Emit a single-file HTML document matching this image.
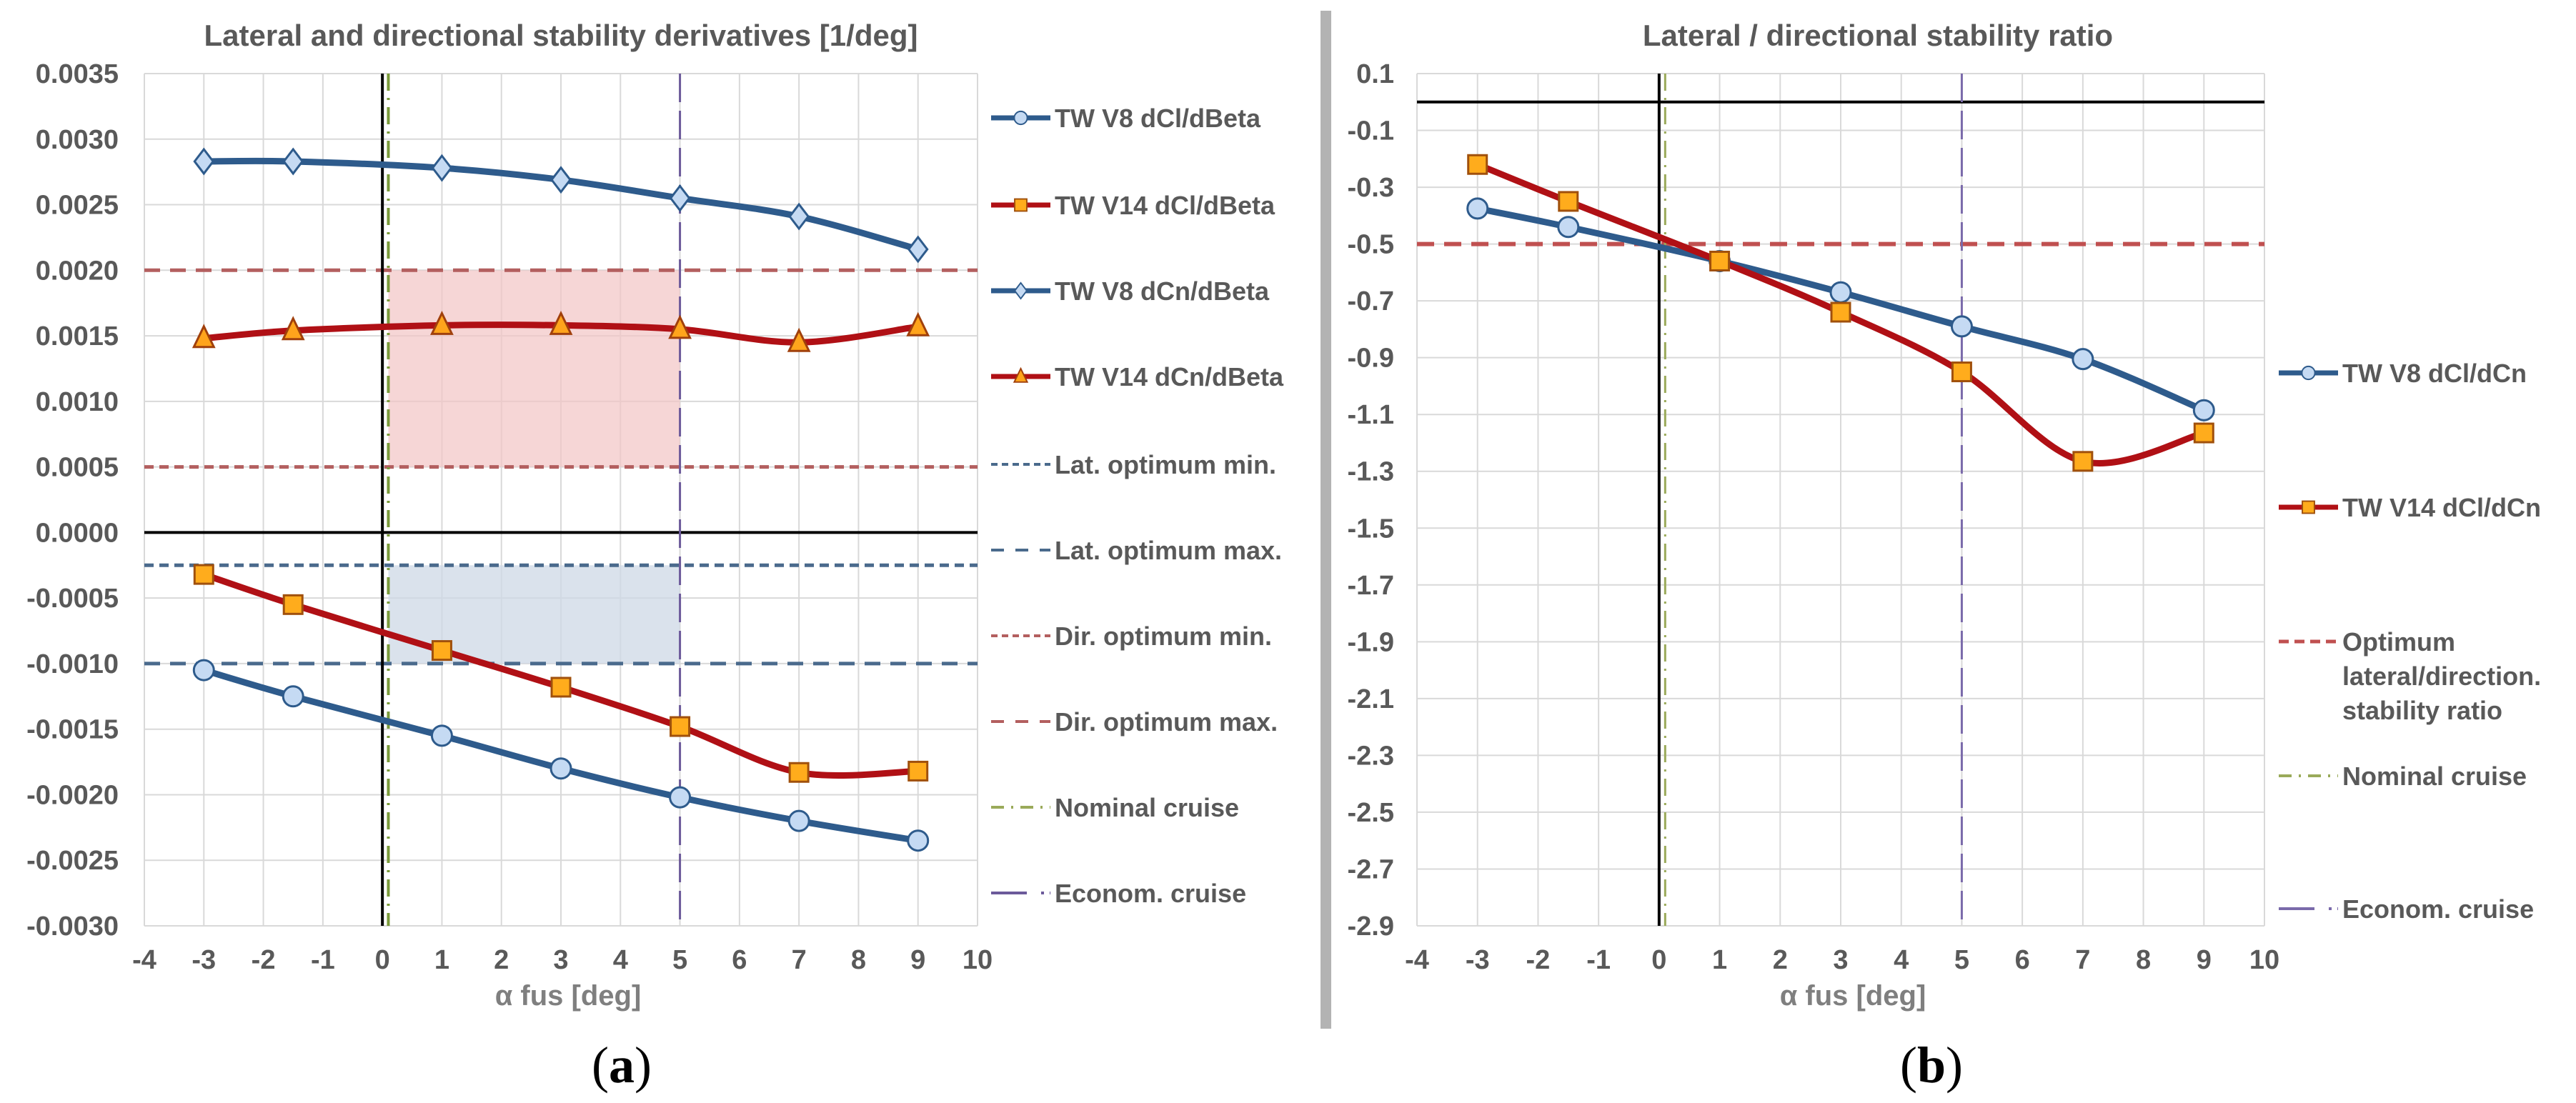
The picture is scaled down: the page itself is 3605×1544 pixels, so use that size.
<!DOCTYPE html>
<html><head><meta charset="utf-8">
<style>
html,body{margin:0;padding:0;background:#fff;}
svg{display:block;font-family:"Liberation Sans",Arial,sans-serif;}
</style></head>
<body>
<svg id="fig" width="3605" height="1544" viewBox="0 0 3605 1544" xmlns="http://www.w3.org/2000/svg">
<rect width="3605" height="1544" fill="#fff"/>
<rect x="1848" y="15" width="15" height="1425" fill="#b3b3b3"/>
<g id="A"></g>
<g id="B"></g>
</svg>
<script>
const xCats = [-3, -1.5, 1, 3, 5, 7, 9];
const v8ClBeta = [-0.00105, -0.00125, -0.00155, -0.0018, -0.00202, -0.0022, -0.00235];
const v14ClBeta = [-0.00032, -0.00055, -0.0009, -0.00118, -0.00148, -0.00183, -0.00182];
const v8CnBeta = [0.00283, 0.00283, 0.00278, 0.00269, 0.00255, 0.00241, 0.00216];
const v14CnBeta = [0.00148, 0.00154, 0.00158, 0.00158, 0.00155, 0.00145, 0.00157];
const v8Ratio = [-0.375, -0.44, -0.56, -0.67, -0.79, -0.905, -1.085];
const v14Ratio = [-0.22, -0.35, -0.56, -0.74, -0.95, -1.265, -1.165];
const xTicks = [-4,-3,-2,-1,0,1,2,3,4,5,6,7,8,9,10];
const yTicksA = [0.0035,0.003,0.0025,0.002,0.0015,0.001,0.0005,0,-0.0005,-0.001,-0.0015,-0.002,-0.0025,-0.003];
const yTicksB = [0.1,-0.1,-0.3,-0.5,-0.7,-0.9,-1.1,-1.3,-1.5,-1.7,-1.9,-2.1,-2.3,-2.5,-2.7,-2.9];
const latMin = -0.00025, latMax = -0.001, dirMin = 0.0005, dirMax = 0.002;
const ratioOpt = -0.5, nominal = 0.1, econ = 5;

const NS = 'http://www.w3.org/2000/svg';
function mk(parent, tag, attrs, text){
  const e = document.createElementNS(NS, tag);
  for (const k in attrs) e.setAttribute(k, attrs[k]);
  if (text !== undefined) e.textContent = text;
  parent.appendChild(e);
  return e;
}
function spline(pts){
  let d = 'M'+pts[0][0]+','+pts[0][1];
  for (let i=0;i<pts.length-1;i++){
    const p0=pts[Math.max(0,i-1)], p1=pts[i], p2=pts[i+1], p3=pts[Math.min(pts.length-1,i+2)];
    const t=1/6;
    d += ' C'+(p1[0]+(p2[0]-p0[0])*t)+','+(p1[1]+(p2[1]-p0[1])*t)+' '+(p2[0]-(p3[0]-p1[0])*t)+','+(p2[1]-(p3[1]-p1[1])*t)+' '+p2[0]+','+p2[1];
  }
  return d;
}
function marker(g, shape, cx, cy, fill, stroke){
  let m;
  if (shape==='circle') m = mk(g,'circle',{cx:cx,cy:cy,r:14,fill:fill,stroke:stroke,'stroke-width':3});
  else if (shape==='square') m = mk(g,'rect',{x:cx-13,y:cy-13,width:26,height:26,fill:fill,stroke:stroke,'stroke-width':3});
  else if (shape==='diamond') m = mk(g,'polygon',{points:`${cx},${cy-17} ${cx+13},${cy} ${cx},${cy+17} ${cx-13},${cy}`,fill:fill,stroke:stroke,'stroke-width':3});
  else m = mk(g,'polygon',{points:`${cx},${cy-17} ${cx+14},${cy+12} ${cx-14},${cy+12}`,fill:fill,stroke:stroke,'stroke-width':3});
  return m;
}
const BLUE='#2e5b8c', RED='#b01015', GREY='#595959';

function axes(g, xl, xr, yt, yb, ymax, ymin, yTicks, fmt, labelRight){
  const X = v => xl + (v+4)/14*(xr-xl);
  const Y = v => yt + (ymax - v)/(ymax-ymin)*(yb-yt);
  xTicks.forEach(t=>{
    const l = mk(g,'line',{x1:X(t),x2:X(t),y1:yt,y2:yb,stroke:'#d9d9d9','stroke-width':2});
    
    
    const tx = mk(g,'text',{x:X(t),y:yb+60,'text-anchor':'middle','font-size':38,'font-weight':'bold',fill:GREY},String(t));
    
    
  });
  yTicks.forEach(t=>{
    const l = mk(g,'line',{x1:xl,x2:xr,y1:Y(t),y2:Y(t),stroke:'#d9d9d9','stroke-width':2});
    
    
    const tx = mk(g,'text',{x:labelRight,y:Y(t)+13,'text-anchor':'end','font-size':38,'font-weight':'bold',fill:GREY},fmt(t));
    
    
  });
  return {X,Y};
}
function series(g, X, Y, vals, color, shape, mfill, mstroke, name){
  const pts = xCats.map((x,i)=>[X(x),Y(vals[i])]);
  const p = mk(g,'path',{d:spline(pts),fill:'none',stroke:color,'stroke-width':9,'stroke-linejoin':'round'});
  
  
  pts.forEach(pt=>{
    const m = marker(g,shape,pt[0],pt[1],mfill,mstroke);
    
    
  });
}
function legendEntry(g, x, y, kind, text, extraLines){
  const le = mk(g,'g',{});
  
  
  const x1=x, x2=x+83;
  if (kind.line) mk(le,'line',{x1:x1,x2:x2,y1:y,y2:y,stroke:kind.color,'stroke-width':kind.w,'stroke-dasharray':kind.dash||'none'});
  if (kind.shape){ const m=marker(le,kind.shape,(x1+x2)/2,y,kind.mfill,kind.mstroke); m.setAttribute('transform',`translate(${(x1+x2)/2},${y}) scale(0.65) translate(${-(x1+x2)/2},${-y})`); }
  mk(le,'text',{x:x2+6,y:y+13,'font-size':36,'font-weight':'bold',fill:GREY},text);
  (extraLines||[]).forEach((t,i)=>mk(le,'text',{x:x2+6,y:y+13+48*(i+1),'font-size':36,'font-weight':'bold',fill:GREY},t));
}
function panelLabel(g, x, letter, name){
  const lab = mk(g,'text',{x:x,y:1515,'text-anchor':'middle','font-size':72,'font-family':'Liberation Serif, serif',fill:'#000'});
  
  
  mk(lab,'tspan',{},'(');
  mk(lab,'tspan',{'font-weight':'bold'},letter);
  mk(lab,'tspan',{},')');
}

// ---- Chart A ----
(function(){
  const g = document.getElementById('A');
  const xl=202, xr=1368, yt=103, yb=1296;
  mk(g,'rect',{x:xl,y:yt,width:xr-xl,height:yb-yt,fill:'#fff'});
  const {X,Y} = axes(g,xl,xr,yt,yb,0.0035,-0.003,yTicksA,t=>t.toFixed(4),166);
  const s1 = mk(g,'rect',{x:X(0.1),y:Y(dirMax),width:X(econ)-X(0.1),height:Y(dirMin)-Y(dirMax),fill:'#f2c4c4',opacity:0.7});
   
  const s2 = mk(g,'rect',{x:X(0.1),y:Y(latMin),width:X(econ)-X(0.1),height:Y(latMax)-Y(latMin),fill:'#cdd8e6',opacity:0.75});
   
  mk(g,'line',{x1:xl,x2:xr,y1:Y(dirMax),y2:Y(dirMax),stroke:'#b35f5f','stroke-width':5,'stroke-dasharray':'22,14'});
  mk(g,'line',{x1:xl,x2:xr,y1:Y(dirMin),y2:Y(dirMin),stroke:'#b35f5f','stroke-width':5,'stroke-dasharray':'13,8'});
  mk(g,'line',{x1:xl,x2:xr,y1:Y(latMin),y2:Y(latMin),stroke:'#4a6a8c','stroke-width':5,'stroke-dasharray':'13,8'});
  mk(g,'line',{x1:xl,x2:xr,y1:Y(latMax),y2:Y(latMax),stroke:'#4a6a8c','stroke-width':5,'stroke-dasharray':'22,14'});
  mk(g,'line',{x1:xl,x2:xr,y1:Y(0),y2:Y(0),stroke:'#000','stroke-width':4});
  mk(g,'line',{x1:X(0),x2:X(0),y1:yt,y2:yb,stroke:'#000','stroke-width':4});
  mk(g,'line',{x1:X(nominal),x2:X(nominal),y1:yt,y2:yb,stroke:'#7a9a3a','stroke-width':4,'stroke-dasharray':'24,10,3,10'});
  mk(g,'line',{x1:X(econ),x2:X(econ),y1:yt,y2:yb,stroke:'#6c5a9a','stroke-width':3,'stroke-dasharray':'40,12'});
  series(g,X,Y,v8CnBeta,BLUE,'diamond','#c5daf3',BLUE,'v8-dcn-dbeta');
  series(g,X,Y,v14CnBeta,RED,'triangle','#ffa41c','#a0400c','v14-dcn-dbeta');
  series(g,X,Y,v14ClBeta,RED,'square','#ffac1c','#a0500c','v14-dcl-dbeta');
  series(g,X,Y,v8ClBeta,BLUE,'circle','#c5daf3',BLUE,'v8-dcl-dbeta');
  const t = mk(g,'text',{x:785,y:64,'text-anchor':'middle','font-size':42,'font-weight':'bold',fill:GREY},'Lateral and directional stability derivatives [1/deg]');
   
  const xt = mk(g,'text',{x:795,y:1407,'text-anchor':'middle','font-size':40,'font-weight':'bold',fill:'#7f7f7f'},'α fus [deg]');
   
  panelLabel(g,870,'a','panel-label-a');
  const lx=1387, rows=[165,287,407,527,650,770,890,1010,1130,1250];
  legendEntry(g,lx,rows[0],{line:1,color:BLUE,w:7,shape:'circle',mfill:'#c5daf3',mstroke:BLUE},'TW V8 dCl/dBeta');
  legendEntry(g,lx,rows[1],{line:1,color:RED,w:7,shape:'square',mfill:'#ffac1c',mstroke:'#a0500c'},'TW V14 dCl/dBeta');
  legendEntry(g,lx,rows[2],{line:1,color:BLUE,w:7,shape:'diamond',mfill:'#c5daf3',mstroke:BLUE},'TW V8 dCn/dBeta');
  legendEntry(g,lx,rows[3],{line:1,color:RED,w:7,shape:'triangle',mfill:'#ffa41c',mstroke:'#a0400c'},'TW V14 dCn/dBeta');
  legendEntry(g,lx,rows[4],{line:1,color:'#4a6a8c',w:4,dash:'9,6'},'Lat. optimum min.');
  legendEntry(g,lx,rows[5],{line:1,color:'#4a6a8c',w:4,dash:'18,16'},'Lat. optimum max.');
  legendEntry(g,lx,rows[6],{line:1,color:'#b35f5f',w:4,dash:'9,6'},'Dir. optimum min.');
  legendEntry(g,lx,rows[7],{line:1,color:'#b35f5f',w:4,dash:'18,16'},'Dir. optimum max.');
  legendEntry(g,lx,rows[8],{line:1,color:'#9aaa5a',w:4,dash:'18,10,3,10'},'Nominal cruise');
  legendEntry(g,lx,rows[9],{line:1,color:'#6c5a9a',w:4,dash:'50,20,4,8'},'Econom. cruise');
})();

// ---- Chart B ----
(function(){
  const g = document.getElementById('B');
  const xl=1983, xr=3169, yt=103, yb=1296;
  const {X,Y} = axes(g,xl,xr,yt,yb,0.1,-2.9,yTicksB,t=>t.toFixed(1),1951);
  mk(g,'line',{x1:xl,x2:xr,y1:Y(ratioOpt),y2:Y(ratioOpt),stroke:'#c05050','stroke-width':6,'stroke-dasharray':'24,14'});
  mk(g,'line',{x1:xl,x2:xr,y1:Y(0),y2:Y(0),stroke:'#000','stroke-width':4});
  mk(g,'line',{x1:X(0),x2:X(0),y1:yt,y2:yb,stroke:'#000','stroke-width':4});
  mk(g,'line',{x1:X(nominal),x2:X(nominal),y1:yt,y2:yb,stroke:'#9aaa5a','stroke-width':3,'stroke-dasharray':'24,10,3,10'});
  mk(g,'line',{x1:X(econ),x2:X(econ),y1:yt,y2:yb,stroke:'#7a6aaa','stroke-width':3,'stroke-dasharray':'40,12'});
  series(g,X,Y,v8Ratio,BLUE,'circle','#c5daf3',BLUE,'v8-dcl-dcn');
  series(g,X,Y,v14Ratio,RED,'square','#ffac1c','#a0500c','v14-dcl-dcn');
  const t = mk(g,'text',{x:2628,y:64,'text-anchor':'middle','font-size':42,'font-weight':'bold',fill:GREY},'Lateral / directional stability ratio');
   
  const xt = mk(g,'text',{x:2593,y:1407,'text-anchor':'middle','font-size':40,'font-weight':'bold',fill:'#7f7f7f'},'α fus [deg]');
   
  panelLabel(g,2703,'b','panel-label-b');
  const lx=3189;
  legendEntry(g,lx,522,{line:1,color:BLUE,w:7,shape:'circle',mfill:'#c5daf3',mstroke:BLUE},'TW V8 dCl/dCn');
  legendEntry(g,lx,710,{line:1,color:RED,w:7,shape:'square',mfill:'#ffac1c',mstroke:'#a0500c'},'TW V14 dCl/dCn');
  legendEntry(g,lx,898,{line:1,color:'#c05050',w:5,dash:'14,8'},'Optimum',['lateral/direction.','stability ratio']);
  legendEntry(g,lx,1086,{line:1,color:'#9aaa5a',w:4,dash:'18,10,3,10'},'Nominal cruise');
  legendEntry(g,lx,1272,{line:1,color:'#7a6aaa',w:4,dash:'50,20,4,8'},'Econom. cruise');
})();
</script>
</body></html>
